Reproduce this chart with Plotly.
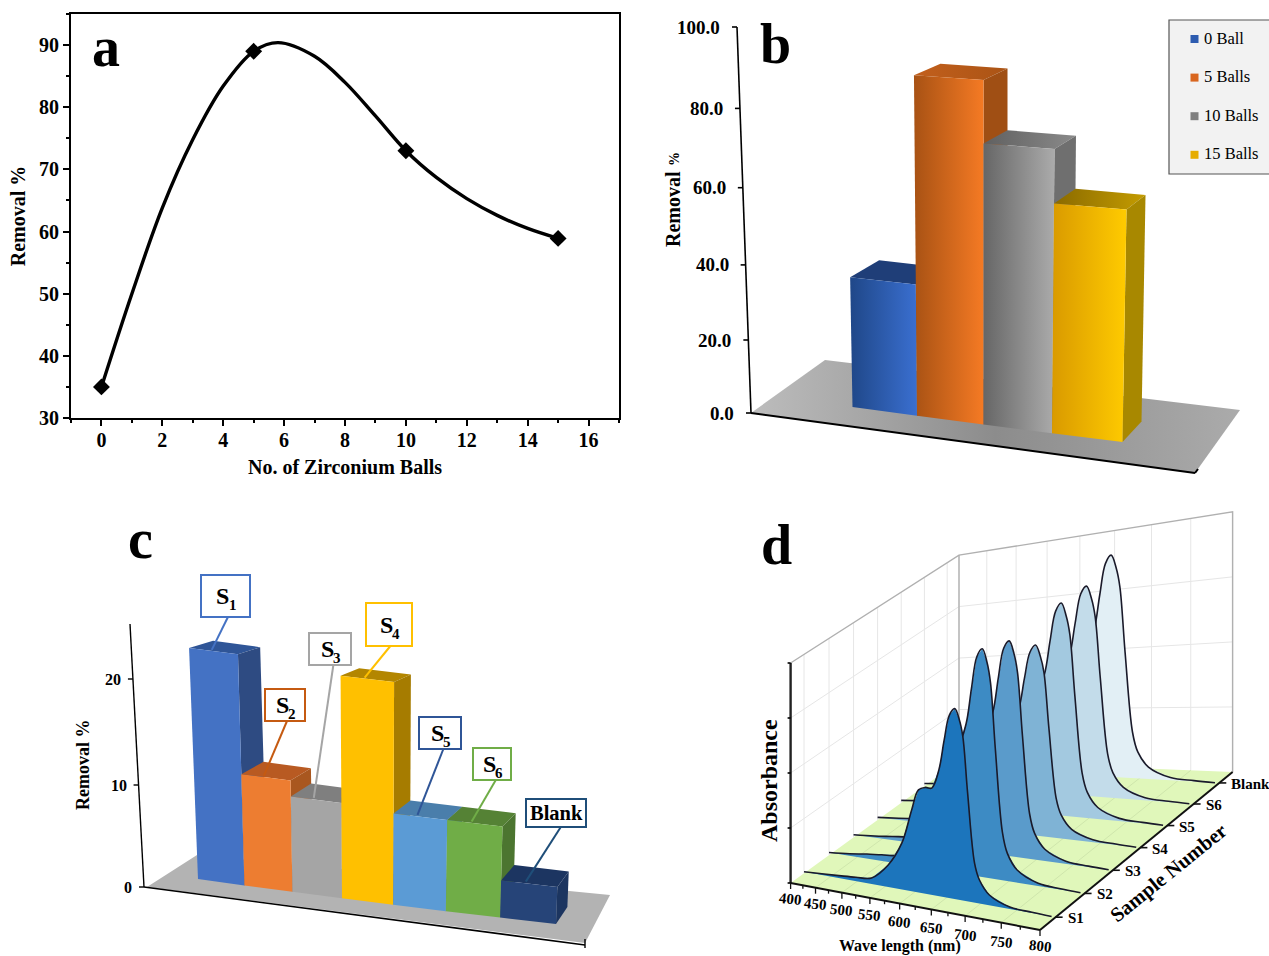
import plotly.graph_objects as go

FONT = "Liberation Serif"

# ---------- data ----------
balls_curve_x = [0, 1, 2, 3, 4, 5, 5.8, 7, 8, 9, 10, 11, 12, 13, 14, 15]
balls_curve_y = [35, 50, 63.8, 74.8, 83.4, 89, 90.4, 88.2, 84, 78.6, 73, 68.7, 65.3, 62.6, 60.5, 58.9]
balls_x = [0, 5, 10, 15]
balls_y = [35, 89, 73, 58.9]

b_names = ["0 Ball", "5 Balls", "10 Balls", "15 Balls"]
b_values = [34.5, 89.5, 73, 59]
b_ticks = [0, 20, 40, 60, 80, 100]

c_names = ["S1", "S2", "S3", "S4", "S5", "S6", "Blank"]
c_values = [21.8, 10.5, 9, 21, 8.6, 8.6, 3.5]
c_ticks = [0, 10, 20]

wavelengths = [400, 440, 473, 500, 528, 557, 580, 596, 607, 618, 628, 639, 647, 655, 663, 670, 675, 682, 692, 699, 713, 741, 770, 795]
spec_S1 = [.007, .012, .017, .022, .03, .096, .195, .334, .418, .43, .429, .503, .62, .72, .745, .70, .636, .419, .153, .091, .04, .008, .003, 0]
spec_S2 = [.012, .02, .03, .036, .045, .11, .23, .39, .49, .525, .53, .61, .75, .875, .905, .85, .77, .51, .19, .11, .05, .012, .004, 0]
spec_S3 = [.012, .018, .026, .032, .04, .10, .21, .37, .47, .50, .505, .58, .715, .835, .863, .81, .735, .485, .18, .105, .048, .012, .004, 0]
spec_S4 = [.012, .018, .024, .03, .036, .09, .19, .33, .42, .45, .45, .52, .64, .745, .773, .725, .66, .435, .16, .095, .043, .011, .004, 0]
spec_S5 = [.012, .018, .024, .03, .04, .10, .21, .37, .47, .505, .51, .585, .72, .84, .871, .815, .74, .49, .18, .105, .048, .012, .004, 0]
spec_S6 = [.012, .018, .024, .03, .04, .10, .21, .37, .47, .50, .505, .585, .72, .84, .869, .815, .74, .49, .18, .105, .048, .012, .004, 0]
spec_Blank = [.01, .016, .022, .03, .04, .11, .23, .39, .50, .535, .54, .62, .765, .895, .927, .87, .79, .52, .19, .11, .05, .012, .004, 0]
d_spectra = [spec_S1, spec_S2, spec_S3, spec_S4, spec_S5, spec_S6, spec_Blank]
d_names = ["S1", "S2", "S3", "S4", "S5", "S6", "Blank"]
d_wave_ticks = [400, 450, 500, 550, 600, 650, 700, 750, 800]

fig = go.Figure()
annots, shapes = [], []

def poly(pts, color=None, grad=None):
    xs = [p[0] for p in pts] + [pts[0][0]]
    ys = [p[1] for p in pts] + [pts[0][1]]
    kw = dict(x=xs, y=ys, xaxis="x2", yaxis="y2", mode="lines", fill="toself",
              line=dict(width=0), hoverinfo="skip", showlegend=False)
    if grad:
        kw["fillgradient"] = dict(type="horizontal", colorscale=[[i / (len(grad) - 1), c] for i, c in enumerate(grad)])
    else:
        kw["fillcolor"] = color
    fig.add_trace(go.Scatter(**kw))

def seg(pts, color="black", width=2, shape="linear"):
    fig.add_trace(go.Scatter(x=[p[0] if p else None for p in pts], y=[p[1] if p else None for p in pts],
                             xaxis="x2", yaxis="y2", mode="lines",
                             line=dict(color=color, width=width, shape=shape),
                             hoverinfo="skip", showlegend=False))

def txt(x, y, s, size, anchor="center", angle=0, bold=True, color="black"):
    annots.append(dict(x=x, y=y, xref="x2", yref="y2", text=s, showarrow=False, xanchor=anchor, yanchor="middle",
                       textangle=angle, font=dict(family=FONT, size=size, color=color, weight=700 if bold else 400)))

# ---------- panel a ----------
fig.add_trace(go.Scatter(x=balls_curve_x, y=balls_curve_y, mode="lines",
                         line=dict(color="black", width=3.4, shape="spline", smoothing=1.0), showlegend=False))
fig.add_trace(go.Scatter(x=balls_x, y=balls_y, mode="markers",
                         marker=dict(symbol="diamond", size=13, color="black"), showlegend=False))

# ---------- panel b ----------
def pb(u, v, h):
    fx = 852.5 + 63.5 * u + u * u
    fy = 407 + 8.75 * u
    s = 3.76 + 0.045 * u
    return (fx + (29 - 2.5 * u) * v - 0.034 * (2 - u) * h, fy + (-20.5 + 0.1 * h) * v - s * h)

poly([(751, 413), (825, 360), (1240, 410), (1195, 473)], grad=["#bdbdbd", "#8c8c8c", "#ababab"])
seg([(751, 413), (1195, 473)], width=2)
seg([(1195, 473), (1198, 469)], width=2)

def by(v):
    return 413 - v * 3.5975 - v * v * 0.002625

seg([(737, 27), (751, 413)], width=1.6)
for v in b_ticks:
    y = by(v)
    x = 751 - 14 * (413 - y) / 386
    seg([(x - 5, y), (x, y)], width=1.6)
    txt(x - 15, y, f"{v:.1f}", 19, anchor="right")
txt(673, 209, "Removal", 20, angle=-90)
txt(674, 159, "%", 14, angle=-90)

b_front = [["#1f4788", "#3a6fd0"], ["#a85214", "#f57a24"], ["#666666", "#ababab"], ["#d99a00", "#ffcb00"]]
b_top = [["#1f3e78", "#1f3e78"], ["#c25f1c", "#ab5415"], ["#606060", "#8a8a8a"], ["#8a6a00", "#c49c00"]]
b_side = ["#1f3e78", "#a04f14", "#6f6f6f", "#a88800"]
for i, h in enumerate(b_values):
    poly([pb(i, 0, h), pb(i, 1, h), pb(i + 1, 1, h), pb(i + 1, 0, h)], grad=b_top[i])
    poly([pb(i + 1, 0, 0), pb(i + 1, 1, 0), pb(i + 1, 1, h), pb(i + 1, 0, h)], color=b_side[i])
    poly([pb(i, 0, 0), pb(i + 1, 0, 0), pb(i + 1, 0, h), pb(i, 0, h)], grad=b_front[i])

shapes.append(dict(type="rect", xref="x2", yref="y2", x0=1169, y0=20, x1=1275, y1=174,
                   fillcolor="#f2f2f2", line=dict(color="#555555", width=1.2)))
leg_cols = ["#2d5cb0", "#d9661f", "#808080", "#e6ac00"]
for i, n in enumerate(b_names):
    y = 39 + i * 38.6
    shapes.append(dict(type="rect", xref="x2", yref="y2", x0=1190.5, y0=y - 4, x1=1198.5, y1=y + 4,
                       fillcolor=leg_cols[i], line=dict(width=0)))
    txt(1202, y - 1, n, 16.5, anchor="left", bold=False)

# ---------- panel c ----------
def pc(u, v, h):
    fx = 198 + 45.64 * u + 0.786 * u * u
    fy = 879 + 6.43 * u
    return (fx + (24 - 1.8 * u) * v + (-0.41 + 0.114 * u) * h, fy + (-17 + 0.45 * h) * v - 10.6 * h)

poly([(147, 887), (197, 855), (610, 895), (585, 943)], color="#b3b3b3")
seg([(144, 887), (585, 945)], width=1.6)
seg([(585, 939), (585, 948)], width=1.4)
seg([(130, 624), (144, 887)], width=1.4)
for v in c_ticks:
    y = {0: 887, 10: 785, 20: 679}[v]
    x = 144 - 14 * (887 - y) / 263
    seg([(x - 5, y), (x, y)], width=1.4)
    txt(x - 10, y, str(v), 16, anchor="right")
txt(83, 765, "Removal %", 18, angle=-90)

c_front = ["#4472c4", "#ed7d31", "#a5a5a5", "#ffc000", "#5b9bd5", "#70ad47", "#264478"]
c_top = ["#2f5597", "#b85a22", "#7f7f7f", "#b38600", "#4a7eab", "#558235", "#1c3561"]
c_side = ["#2e4b82", "#a9571f", "#7f7f7f", "#a67c00", "#41719c", "#4c7530", "#1c3560"]
c_boxes = [(201, 575, 250, 617), (265, 689, 305, 721), (309, 633, 351, 665), (366, 603, 412, 646),
           (419, 717, 461, 749), (473, 748, 511, 780), (526, 799, 586, 827)]
c_lines = ["#4472c4", "#c55a11", "#a5a5a5", "#ffc000", "#2f5597", "#70ad47", "#1f4e79"]
for i, h in enumerate(c_values):
    poly([pc(i, 0, h), pc(i, 1, h), pc(i + 1, 1, h), pc(i + 1, 0, h)], color=c_top[i])
    poly([pc(i + 1, 0, 0), pc(i + 1, 1, 0), pc(i + 1, 1, h), pc(i + 1, 0, h)], color=c_side[i])
    poly([pc(i, 0, 0), pc(i + 1, 0, 0), pc(i + 1, 0, h), pc(i, 0, h)], color=c_front[i])
for i, h in enumerate(c_values):
    x0, y0, x1, y1 = c_boxes[i]
    anchor_x = {0: 0.55, 1: 0.55, 2: 0.58, 3: 0.53, 4: 0.58, 5: 0.6, 6: 0.58}[i] * (x1 - x0) + x0
    seg([(anchor_x, y1), pc(i + 0.42, 0.1, h)], color=c_lines[i], width=2)
    shapes.append(dict(type="rect", xref="x2", yref="y2", x0=x0, y0=y0, x1=x1, y1=y1,
                       fillcolor="white", line=dict(color=c_lines[i], width=2)))
    cx, cy = (x0 + x1) / 2, (y0 + y1) / 2
    if c_names[i] == "Blank":
        txt(cx, cy, c_names[i], 20.5)
    else:
        txt(cx - 3, cy, c_names[i][0], 24)
        txt(cx + 7, cy + 9, c_names[i][1], 15)

# ---------- panel d ----------
P0, P1, P2, P3 = (790.6, 883), (1040, 930), (1232.6, 772), (959, 761)
dx1, dx2, sx = P1[0] - P2[0], P3[0] - P2[0], P0[0] - P1[0] + P2[0] - P3[0]
dy1, dy2, sy = P1[1] - P2[1], P3[1] - P2[1], P0[1] - P1[1] + P2[1] - P3[1]
det = dx1 * dy2 - dx2 * dy1
G = (sx * dy2 - dx2 * sy) / det
H = (dx1 * sy - sx * dy1) / det
A, B, C = P1[0] - P0[0] + G * P1[0], P3[0] - P0[0] + H * P3[0], P0[0]
D, E, F = P1[1] - P0[1] + G * P1[1], P3[1] - P0[1] + H * P3[1], P0[1]

def pd(lam, s, z=0.0):
    w = (lam - 400) / 400
    d = G * w + H * s + 1
    return ((A * w + B * s + C) / d, (D * w + E * s + F) / d - 220 * z / d)

s_pos = [0.075 + 0.1417 * i for i in range(7)]
grid = []
for lam in d_wave_ticks:
    grid += [pd(lam, 1, 0), pd(lam, 1, 1), None]
for z in (.25, .5, .75):
    grid += [pd(400, 1, z), pd(800, 1, z), None, pd(400, 0, z), pd(400, 1, z), None]
for s in s_pos:
    grid += [pd(400, s, 0), pd(400, s, 1), None]
seg(grid, color="#e6e6e6", width=1)
seg([pd(400, 0, 1), pd(400, 1, 1), pd(800, 1, 1), pd(800, 1, 0), None, pd(400, 1, 1), pd(400, 1, 0)], color="#b0b0b0", width=1.4)

poly([pd(400, 0), pd(800, 0), pd(800, 1), pd(400, 1)], color="#e0f7ba")
fl = []
for lam in d_wave_ticks[1:-1]:
    fl += [pd(lam, 0), pd(lam, 1), None]
seg(fl, color="#cfe6ac", width=1)

d_fill = ["#1c75bc", "#3d8bc4", "#5a9bcb", "#7fb3d5", "#a3c9e0", "#c3dcea", "#e2eff5"]
for i in range(6, -1, -1):
    s = s_pos[i]
    curve = [pd(l, s, z) for l, z in zip(wavelengths, d_spectra[i])]
    poly(curve, color=d_fill[i])
    seg(curve, color="#1a1a2a", width=1.6, shape="spline")

seg([pd(400, 0), pd(400, 0, 1)], width=2.4, color="#222222")
seg([pd(400, 0), pd(800, 0)], width=2, color="#111111")
seg([pd(800, 0), pd(800, 1)], width=2, color="#111111")
for z in (0, .25, .5, .75, 1):
    x, y = pd(400, 0, z)
    seg([(x - 3, y), (x, y)], width=1.6)
for lam in range(400, 801, 25):
    x, y = pd(lam, 0)
    seg([(x, y), (x, y + (6 if lam % 50 == 0 else 3.5))], width=1.3, color="#111111")
for lam in d_wave_ticks:
    x, y = pd(lam, 0)
    txt(x, min(y + 16 + 4 * (lam - 400) / 400, 945.5), str(lam), 15, angle=6)
for s, n in zip(s_pos, d_names):
    x, y = pd(800, s)
    seg([(x, y), (x + 7, y)], width=1.6, color="#111111")
    txt(x + 10, y + 1, n, 15, anchor="left")
txt(900, 946, "Wave length (nm)", 16)
txt(769, 781, "Absorbance", 24, angle=-90)
txt(1168, 873, "Sample Number", 20.5, angle=-39)

# ---------- panel letters ----------
txt(106, 47, "a", 56)
txt(775, 44, "b", 56)
txt(140, 539, "c", 56)
txt(776, 545, "d", 56)

axis_font = dict(family=FONT, size=20, color="black", weight=700)
title_font = dict(family=FONT, size=20, color="black", weight=700)
fig.update_layout(
    width=1269, height=956, margin=dict(l=0, r=0, t=0, b=0, autoexpand=False),
    paper_bgcolor="white", plot_bgcolor="rgba(0,0,0,0)", showlegend=False,
    annotations=annots, shapes=shapes,
    xaxis=dict(domain=[71 / 1269, 619 / 1269], range=[-1, 17], tick0=0, dtick=2, ticks="outside", ticklen=6, tickwidth=2,
               ticklabelstandoff=-3,
               minor=dict(dtick=1, ticks="outside", ticklen=3, tickwidth=1.5, tickcolor="black"),
               showline=True, mirror=True, linecolor="black", linewidth=2, showgrid=False, zeroline=False,
               tickfont=axis_font, title=dict(text="No. of Zirconium Balls", font=title_font, standoff=10), tickcolor="black"),
    yaxis=dict(domain=[(956 - 418) / 956, (956 - 14) / 956], range=[30, 95], tick0=30, dtick=10, ticks="outside", ticklen=6, tickwidth=2,
               minor=dict(dtick=5, ticks="outside", ticklen=3, tickwidth=1.5, tickcolor="black"),
               showline=True, mirror=True, linecolor="black", linewidth=2, showgrid=False, zeroline=False,
               tickfont=axis_font, title=dict(text="Removal %", font=title_font, standoff=8), tickcolor="black"),
    xaxis2=dict(domain=[0, 1], range=[0, 1269], visible=False, anchor="y2", fixedrange=True),
    yaxis2=dict(domain=[0, 1], range=[956, 0], visible=False, anchor="x2", fixedrange=True),
)
fig.write_html("out.html", config={"displayModeBar": False},
               post_script="document.body.style.margin='0';document.documentElement.style.overflow='hidden';")
